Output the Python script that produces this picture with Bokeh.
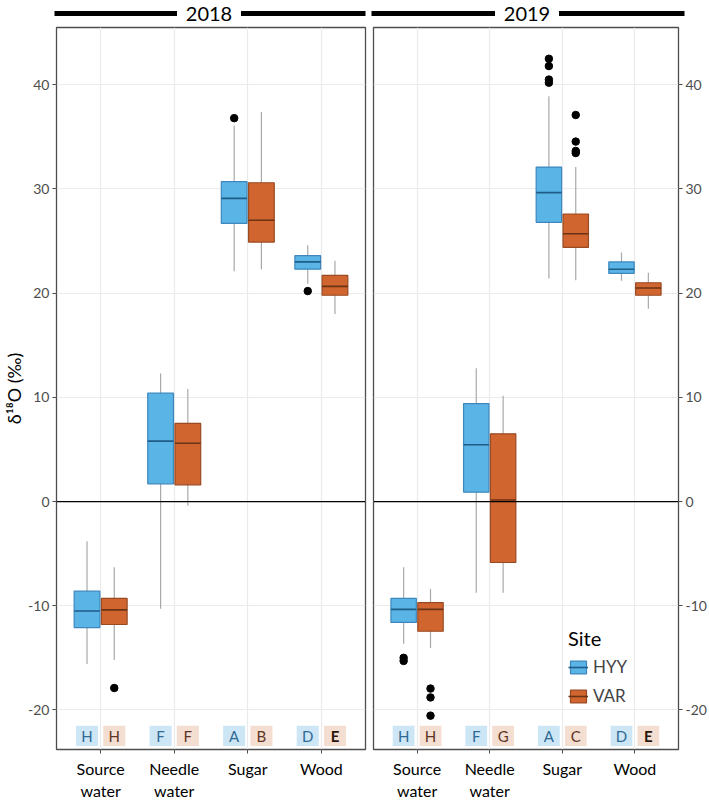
from bokeh.plotting import figure
from bokeh.models import (ColumnDataSource, Range1d, Span, Legend,
                          LegendItem, FixedTicker)
from bokeh.transform import dodge
from bokeh.layouts import column, row
from bokeh.embed import file_html
from bokeh.resources import INLINE
from bokeh.core.properties import value

# ---------------- data ----------------
categories = ["Source water", "Needle water", "Sugar", "Wood"]
category_labels = ["Source\nwater", "Needle\nwater", "Sugar", "Wood"]
sites = ["HYY", "VAR"]
years = ["2018", "2019"]
y_ticks = [-20, -10, 0, 10, 20, 30, 40]
y_tick_labels = ["-20", "-10", "0", "10", "20", "30", "40"]

# 2018 HYY
hyy18_low = [-15.6, -10.3, 22.1, 20.9]
hyy18_q1 = [-12.1, 1.7, 26.7, 22.3]
hyy18_med = [-10.5, 5.8, 29.1, 23.0]
hyy18_q3 = [-8.6, 10.4, 30.7, 23.6]
hyy18_high = [-3.8, 12.3, 36.1, 24.6]
hyy18_out_cat = ["Sugar", "Wood"]
hyy18_out_val = [36.8, 20.2]
hyy18_letters = ["H", "F", "A", "D"]
hyy18_bold = [False, False, False, False]

# 2018 VAR
var18_low = [-15.2, -0.4, 22.3, 18.0]
var18_q1 = [-11.8, 1.6, 24.9, 19.8]
var18_med = [-10.4, 5.6, 27.0, 20.65]
var18_q3 = [-9.3, 7.5, 30.6, 21.7]
var18_high = [-6.3, 10.8, 37.4, 23.1]
var18_out_cat = ["Source water"]
var18_out_val = [-17.9]
var18_letters = ["H", "F", "B", "E"]
var18_bold = [False, False, False, True]

# 2019 HYY
hyy19_low = [-13.65, -8.75, 21.4, 21.2]
hyy19_q1 = [-11.6, 0.9, 26.8, 21.9]
hyy19_med = [-10.35, 5.45, 29.65, 22.3]
hyy19_q3 = [-9.3, 9.4, 32.1, 23.0]
hyy19_high = [-6.3, 12.8, 38.9, 23.9]
hyy19_out_cat = ["Source water", "Source water", "Sugar", "Sugar", "Sugar", "Sugar"]
hyy19_out_val = [-15.0, -15.3, 42.5, 41.8, 40.5, 40.2]
hyy19_letters = ["H", "F", "A", "D"]
hyy19_bold = [False, False, False, False]

# 2019 VAR
var19_low = [-14.05, -8.75, 21.25, 18.5]
var19_q1 = [-12.45, -5.85, 24.4, 19.8]
var19_med = [-10.35, 0.15, 25.7, 20.5]
var19_q3 = [-9.7, 6.5, 27.6, 21.0]
var19_high = [-8.4, 10.15, 32.1, 21.95]
var19_out_cat = ["Source water", "Source water", "Source water",
                 "Sugar", "Sugar", "Sugar", "Sugar"]
var19_out_val = [-17.95, -18.8, -20.55, 37.1, 34.55, 33.65, 33.45]
var19_letters = ["H", "G", "C", "E"]
var19_bold = [False, False, False, True]

panels = {
    "2018": {
        "HYY": (hyy18_low, hyy18_q1, hyy18_med, hyy18_q3, hyy18_high,
                hyy18_out_cat, hyy18_out_val, hyy18_letters, hyy18_bold),
        "VAR": (var18_low, var18_q1, var18_med, var18_q3, var18_high,
                var18_out_cat, var18_out_val, var18_letters, var18_bold),
    },
    "2019": {
        "HYY": (hyy19_low, hyy19_q1, hyy19_med, hyy19_q3, hyy19_high,
                hyy19_out_cat, hyy19_out_val, hyy19_letters, hyy19_bold),
        "VAR": (var19_low, var19_q1, var19_med, var19_q3, var19_high,
                var19_out_cat, var19_out_val, var19_letters, var19_bold),
    },
}

# ---------------- style ----------------
FONT = "Lato"
style = {
    "HYY": dict(fill="#5AB4E5", line="#3D87BD", median="#1F5D88",
                tag="#CDE6F6", letter="#2F6A95", offset=-0.185),
    "VAR": dict(fill="#D0652F", line="#9A4A22", median="#6B3315",
                tag="#F4DED1", letter="#5E3524", offset=0.185),
}
BOX_W = 0.35
TAG_Y = -22.5
WHISKER = "#A9A9A9"
X_LO, X_HI = 0.4, len(categories) + 0.6
Y_LO, Y_HI = -23.8, 45.5
cat_pos = {c: i + 1 for i, c in enumerate(categories)}


def style_axis(ax, size, color):
    ax.axis_line_color = None
    ax.major_tick_in = 0
    ax.major_tick_out = 4
    ax.major_tick_line_color = "#4D4D4D"
    ax.minor_tick_line_color = None
    ax.major_label_text_font = FONT
    ax.major_label_text_font_size = size
    ax.major_label_text_color = color


def make_panel(year, side):
    left = side == "left"
    p = figure(
        x_range=Range1d(X_LO, X_HI),
        y_range=Range1d(Y_LO, Y_HI),
        width=369 if left else 340, height=777,
        y_axis_location="left" if left else "right",
        output_backend="svg", toolbar_location=None,
        min_border_left=56 if left else 4,
        min_border_right=4 if left else 25,
        min_border_top=1, min_border_bottom=52,
        background_fill_color="white", border_fill_color="white",
    )
    p.outline_line_color = "#4D4D4D"
    p.outline_line_width = 1.3
    p.xgrid.grid_line_color = "#EBEBEB"
    p.ygrid.grid_line_color = "#EBEBEB"
    p.xgrid.grid_line_width = 1.2
    p.ygrid.grid_line_width = 1.2

    yax = p.yaxis[0]
    yax.ticker = FixedTicker(ticks=y_ticks)
    yax.major_label_overrides = dict(zip(y_ticks, y_tick_labels))
    style_axis(yax, "14px", "#4D4D4D")
    yax.major_label_standoff = 3

    xax = p.xaxis[0]
    xax.ticker = FixedTicker(ticks=[cat_pos[c] for c in categories])
    xax.major_label_overrides = {cat_pos[c]: lab for c, lab in zip(categories, category_labels)}
    style_axis(xax, "16px", "black")
    xax.major_label_standoff = 5

    if left:
        yax.axis_label = "δ¹⁸O (‰)"
        yax.axis_label_text_font = FONT
        yax.axis_label_text_font_style = "normal"
        yax.axis_label_text_font_size = "18px"
        yax.axis_label_text_color = "black"
        yax.axis_label_standoff = 0

    p.add_layout(Span(location=0, dimension="width", line_color="black",
                      line_width=1.3))

    items = []
    for site in sites:
        lo, q1, med, q3, hi, oc, ov, letters, bold = panels[year][site]
        st = style[site]
        off = st["offset"]
        src = ColumnDataSource(dict(
            x=[cat_pos[c] for c in categories], lo=lo, q1=q1, med=med, q3=q3, hi=hi,
            letter=letters,
            fstyle=["bold" if b else "normal" for b in bold],
            fcolor=["#2B160C" if b else st["letter"] for b in bold],
        ))
        xc = dodge("x", off)
        p.segment(x0=xc, y0="lo", x1=xc, y1="hi", source=src,
                  line_color=WHISKER, line_width=1.2)
        box = p.vbar(x=xc, width=BOX_W, bottom="q1", top="q3", source=src,
                     fill_color=st["fill"], line_color=st["line"], line_width=1.2)
        med_r = p.segment(x0=dodge("x", off - BOX_W / 2), y0="med",
                          x1=dodge("x", off + BOX_W / 2), y1="med",
                          source=src, line_color=st["median"], line_width=1.6)
        osrc = ColumnDataSource(dict(x=[cat_pos[c] for c in oc], val=ov))
        p.scatter(x=dodge("x", off), y="val", source=osrc,
                  size=7.5, color="black")
        p.rect(x=xc, y=TAG_Y, width=0.3, height=1.95, source=src,
               fill_color=st["tag"], line_color=None)
        p.text(x=xc, y=TAG_Y, text="letter", source=src, text_align="center",
               text_baseline="middle", text_font=value(FONT),
               text_font_size="15px", text_font_style="fstyle",
               text_color="fcolor")
        items.append(LegendItem(label=site, renderers=[box, med_r]))

    if not left:
        leg = Legend(items=items, title="Site", location=(195, 43))
        leg.title_text_font = FONT
        leg.title_text_font_size = "20px"
        leg.title_text_font_style = "normal"
        leg.title_text_color = "black"
        leg.label_text_font = FONT
        leg.label_text_font_size = "17px"
        leg.glyph_width = 20
        leg.glyph_height = 16
        leg.spacing = 8
        leg.padding = 8
        leg.title_standoff = 6
        leg.border_line_color = None
        leg.background_fill_color = "white"
        leg.background_fill_alpha = 1.0
        p.add_layout(leg)
    return p


left_p = make_panel("2018", "left")
right_p = make_panel("2019", "right")

# strip with year labels
STRIP_H = 26
strip = figure(width=709, height=STRIP_H, x_range=Range1d(0, 709), y_range=Range1d(0, STRIP_H),
               output_backend="svg", toolbar_location=None, min_border=0)
strip.axis.visible = False
strip.grid.visible = False
strip.outline_line_color = None
panel_spans = [(56, 365), (373, 684)]
half_text = 32
for (x0, x1), yr in zip(panel_spans, years):
    xm = (x0 + x1) / 2 - 2
    strip.segment(x0=[x0 - 2, xm + half_text], y0=[13, 13], x1=[xm - half_text, x1], y1=[13, 13],
                  line_color="black", line_width=5)
    strip.text(x=[xm], y=[13], text=[yr], text_align="center", text_baseline="middle",
               text_font=value(FONT), text_font_size="20px", text_color="black")

layout = column(strip, row(left_p, right_p, spacing=0), spacing=0)
open("out.html", "w").write(file_html(layout, INLINE))
